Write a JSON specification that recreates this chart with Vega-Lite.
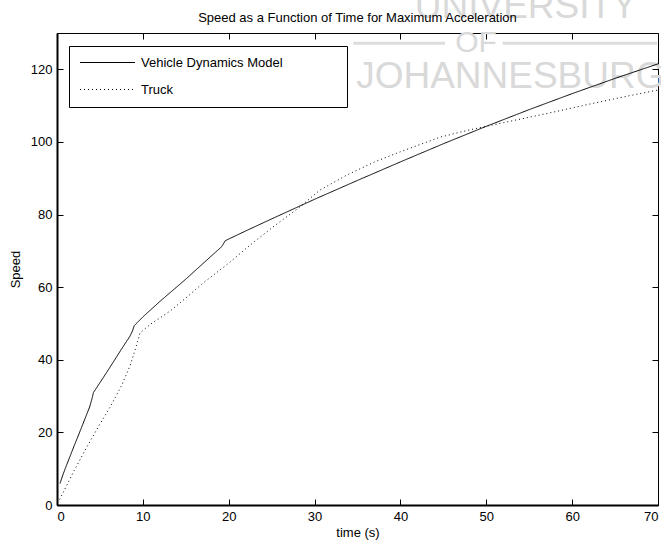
{
  "$schema": "https://vega.github.io/schema/vega-lite/v6.json",
  "width": 601,
  "height": 472,
  "autosize": {"type": "none"},
  "padding": {"left": 57, "top": 33, "right": 3, "bottom": 36},
  "background": "white",
  "title": {
    "text": "Speed as a Function of Time for Maximum Acceleration",
    "font": "Liberation Sans",
    "fontSize": 13,
    "fontWeight": "normal",
    "color": "black",
    "anchor": "middle",
    "frame": "group",
    "offset": -37
  },
  "config": {
    "view": {"stroke": "black", "strokeWidth": 1},
    "axis": {
      "grid": false,
      "labelFont": "Liberation Sans",
      "labelFontSize": 13,
      "labelColor": "black",
      "titleFont": "Liberation Sans",
      "titleFontSize": 13,
      "titleFontWeight": "normal",
      "titleColor": "black",
      "tickColor": "black",
      "domainColor": "black",
      "tickSize": -6,
      "labelPadding": 11
    }
  },
  "datasets": {
    "speed": [
      {"series": "Vehicle Dynamics Model", "time": 0.35, "speed": 5.9},
      {"series": "Vehicle Dynamics Model", "time": 0.7, "speed": 8.4},
      {"series": "Vehicle Dynamics Model", "time": 1.1, "speed": 10.9},
      {"series": "Vehicle Dynamics Model", "time": 2.0, "speed": 16.3},
      {"series": "Vehicle Dynamics Model", "time": 3.0, "speed": 22.2},
      {"series": "Vehicle Dynamics Model", "time": 3.8, "speed": 27.0},
      {"series": "Vehicle Dynamics Model", "time": 4.1, "speed": 29.5},
      {"series": "Vehicle Dynamics Model", "time": 4.25, "speed": 31.0},
      {"series": "Vehicle Dynamics Model", "time": 4.45, "speed": 31.7},
      {"series": "Vehicle Dynamics Model", "time": 6.0, "speed": 37.3},
      {"series": "Vehicle Dynamics Model", "time": 7.5, "speed": 42.9},
      {"series": "Vehicle Dynamics Model", "time": 8.5, "speed": 46.5},
      {"series": "Vehicle Dynamics Model", "time": 8.8, "speed": 48.0},
      {"series": "Vehicle Dynamics Model", "time": 9.0, "speed": 49.4},
      {"series": "Vehicle Dynamics Model", "time": 10.0, "speed": 51.8},
      {"series": "Vehicle Dynamics Model", "time": 12.0, "speed": 56.1},
      {"series": "Vehicle Dynamics Model", "time": 15.0, "speed": 62.2},
      {"series": "Vehicle Dynamics Model", "time": 17.0, "speed": 66.5},
      {"series": "Vehicle Dynamics Model", "time": 19.2, "speed": 71.2},
      {"series": "Vehicle Dynamics Model", "time": 19.6, "speed": 72.8},
      {"series": "Vehicle Dynamics Model", "time": 22.0, "speed": 75.5},
      {"series": "Vehicle Dynamics Model", "time": 25.0, "speed": 78.8},
      {"series": "Vehicle Dynamics Model", "time": 30.0, "speed": 84.2},
      {"series": "Vehicle Dynamics Model", "time": 35.0, "speed": 89.4},
      {"series": "Vehicle Dynamics Model", "time": 40.0, "speed": 94.5},
      {"series": "Vehicle Dynamics Model", "time": 45.0, "speed": 99.5},
      {"series": "Vehicle Dynamics Model", "time": 50.0, "speed": 104.3},
      {"series": "Vehicle Dynamics Model", "time": 55.0, "speed": 108.9},
      {"series": "Vehicle Dynamics Model", "time": 60.0, "speed": 113.3},
      {"series": "Vehicle Dynamics Model", "time": 65.0, "speed": 117.5},
      {"series": "Vehicle Dynamics Model", "time": 70.0, "speed": 121.5},
      {"series": "Truck", "time": 0.3, "speed": 1.5},
      {"series": "Truck", "time": 0.66, "speed": 3.2},
      {"series": "Truck", "time": 2.0, "speed": 9.5},
      {"series": "Truck", "time": 3.46, "speed": 15.9},
      {"series": "Truck", "time": 5.0, "speed": 22.3},
      {"series": "Truck", "time": 6.17, "speed": 26.9},
      {"series": "Truck", "time": 7.5, "speed": 32.8},
      {"series": "Truck", "time": 8.5, "speed": 38.3},
      {"series": "Truck", "time": 9.2, "speed": 43.5},
      {"series": "Truck", "time": 9.67, "speed": 47.4},
      {"series": "Truck", "time": 10.83, "speed": 49.7},
      {"series": "Truck", "time": 13.16, "speed": 53.4},
      {"series": "Truck", "time": 15.0, "speed": 57.0},
      {"series": "Truck", "time": 17.0, "speed": 61.1},
      {"series": "Truck", "time": 20.0, "speed": 66.6},
      {"series": "Truck", "time": 22.5, "speed": 71.6},
      {"series": "Truck", "time": 25.0, "speed": 76.3},
      {"series": "Truck", "time": 28.3, "speed": 82.1},
      {"series": "Truck", "time": 30.6, "speed": 86.7},
      {"series": "Truck", "time": 33.7, "speed": 90.8},
      {"series": "Truck", "time": 37.0, "speed": 94.5},
      {"series": "Truck", "time": 40.0, "speed": 97.3},
      {"series": "Truck", "time": 44.6, "speed": 101.3},
      {"series": "Truck", "time": 48.0, "speed": 103.3},
      {"series": "Truck", "time": 52.0, "speed": 105.3},
      {"series": "Truck", "time": 57.8, "speed": 108.2},
      {"series": "Truck", "time": 62.0, "speed": 110.4},
      {"series": "Truck", "time": 66.0, "speed": 112.4},
      {"series": "Truck", "time": 70.0, "speed": 114.3}
    ],
    "watermark": [
      {"word": "UNIVERSITY", "wx": 54.6, "wy": 134.1, "big": true},
      {"word": "JOHANNESBURG", "wx": 52.8, "wy": 114.8, "big": true},
      {"word": "OF", "wx": 48.8, "wy": 124.8, "big": false}
    ],
    "watermarkRules": [
      {"x1": 34.5, "x2": 45.2, "ry": 127.2},
      {"x1": 51.9, "x2": 69.9, "ry": 127.2}
    ]
  },
  "layer": [
    {
      "data": {"name": "watermark"},
      "transform": [{"filter": "datum.big"}],
      "mark": {"type": "text", "font": "Liberation Sans", "fontSize": 37, "color": "#d9d9d9", "align": "center", "baseline": "alphabetic", "clip": false},
      "encoding": {
        "x": {"field": "wx", "type": "quantitative", "scale": {"domain": [0, 70], "nice": false, "zero": false},
          "axis": {"orient": "top", "labels": false, "title": null, "domain": false, "values": [0, 10, 20, 30, 40, 50, 60, 70]}},
        "y": {"field": "wy", "type": "quantitative", "scale": {"domain": [0, 130], "nice": false, "zero": false},
          "axis": {"orient": "right", "labels": false, "title": null, "domain": false, "values": [0, 20, 40, 60, 80, 100, 120]}},
        "text": {"field": "word"}
      }
    },
    {
      "data": {"name": "watermark"},
      "transform": [{"filter": "!datum.big"}],
      "mark": {"type": "text", "font": "Liberation Sans", "fontSize": 30, "color": "#d9d9d9", "align": "center", "baseline": "alphabetic", "clip": false},
      "encoding": {
        "x": {"field": "wx", "type": "quantitative", "axis": null},
        "y": {"field": "wy", "type": "quantitative", "axis": null},
        "text": {"field": "word"}
      }
    },
    {
      "data": {"name": "watermarkRules"},
      "mark": {"type": "rule", "color": "#dcdcdc", "strokeWidth": 3},
      "encoding": {
        "x": {"field": "x1", "type": "quantitative", "axis": null},
        "x2": {"field": "x2"},
        "y": {"field": "ry", "type": "quantitative", "axis": null}
      }
    },
    {
      "data": {"name": "speed"},
      "mark": {"type": "line", "color": "black", "strokeWidth": 1, "clip": true},
      "encoding": {
        "x": {"field": "time", "type": "quantitative", "title": "time (s)",
          "axis": {"orient": "bottom", "values": [0, 10, 20, 30, 40, 50, 60, 70], "domainWidth": 2, "titlePadding": 3}},
        "y": {"field": "speed", "type": "quantitative", "title": "Speed",
          "axis": {"orient": "left", "values": [0, 20, 40, 60, 80, 100, 120], "domainWidth": 2, "titlePadding": 8}},
        "strokeDash": {
          "field": "series",
          "type": "nominal",
          "scale": {"domain": ["Vehicle Dynamics Model", "Truck"], "range": [[1, 0], [1, 3]]},
          "legend": {
            "orient": "none",
            "legendX": 12,
            "legendY": 13,
            "title": null,
            "symbolType": "M-1,0H9",
            "symbolSize": 121,
            "symbolStrokeWidth": 1,
            "symbolStrokeColor": "black",
            "labelFont": "Liberation Sans",
            "labelFontSize": 13,
            "labelColor": "black",
            "labelOffset": 49,
            "labelLimit": 400,
            "labelExpr": "datum.label + '\u00a0\u00a0\u00a0\u00a0\u00a0\u00a0\u00a0\u00a0\u00a0\u00a0\u00a0\u00a0\u00a0\u00a0\u00a0\u200b'",
            "strokeColor": "black",
            "fillColor": "white",
            "padding": 10,
            "rowPadding": 13
          }
        },
        "order": {"field": "time", "type": "quantitative"}
      }
    }
  ],
  "resolve": {"axis": {"x": "independent", "y": "independent"}}
}
